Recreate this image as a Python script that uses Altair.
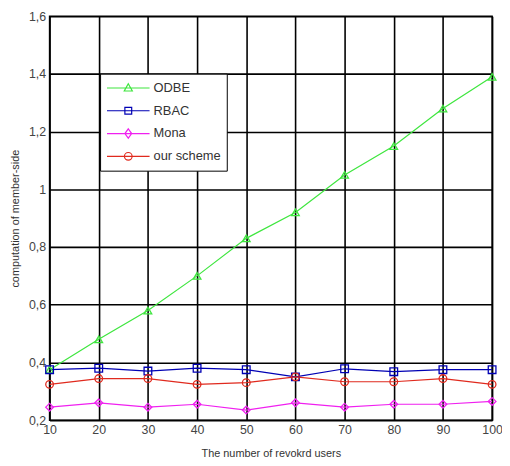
import altair as alt
import pandas as pd

users = [10, 20, 30, 40, 50, 60, 70, 80, 90, 100]
series_names = ["ODBE", "RBAC", "Mona", "our scheme"]
odbe = [0.375, 0.48, 0.58, 0.70, 0.83, 0.92, 1.05, 1.15, 1.28, 1.39]
rbac = [0.375, 0.38, 0.37, 0.38, 0.375, 0.35, 0.378, 0.368, 0.375, 0.375]
mona = [0.245, 0.26, 0.245, 0.255, 0.235, 0.26, 0.245, 0.255, 0.255, 0.265]
ours = [0.324, 0.344, 0.344, 0.324, 0.33, 0.35, 0.333, 0.333, 0.344, 0.324]
y_ticks = [0.2, 0.4, 0.6, 0.8, 1.0, 1.2, 1.4, 1.6]

colors = ["#3ee63e", "#0000b4", "#f020f0", "#e02a1e"]
shapes = ["triangle-up", "square", "diamond", "circle"]

# legend glyphs: a line with the marker on it (custom paths in -1..1 box)
line = "M-1,0L1,0"
legend_paths = [
    line + "M0,-0.2L0.19,0.14L-0.19,0.14Z",
    line + "M-0.16,-0.16L0.16,-0.16L0.16,0.16L-0.16,0.16Z",
    line + "M0,-0.22L0.16,0L0,0.22L-0.16,0Z",
    line + "M0.18,0A0.18,0.18,0,1,1,-0.18,0A0.18,0.18,0,1,1,0.18,0Z",
]

rows = []
for name, vals in zip(series_names, [odbe, rbac, mona, ours]):
    for u, v in zip(users, vals):
        rows.append({"users": u, "value": v, "series": name})
df = pd.DataFrame(rows)

font = "Liberation Sans"

x = alt.X("users:Q", scale=alt.Scale(domain=[10, 100], nice=False, zero=False),
          axis=alt.Axis(values=users, title="The number of revokrd users", labelFlush=False))
y = alt.Y("value:Q", scale=alt.Scale(domain=[0.2, 1.6], nice=False, zero=False),
          axis=alt.Axis(values=y_ticks, title="computation of member-side",
                        labelExpr="replace(format(datum.value, '~g'), '.', ',')"))
color_nolegend = alt.Color("series:N", scale=alt.Scale(domain=series_names, range=colors), legend=None)

lines = alt.Chart(df).mark_line(strokeWidth=1.2).encode(x=x, y=y, color=color_nolegend, detail="series:N")
points = alt.Chart(df).mark_point(filled=False, size=60, strokeWidth=1.3, opacity=1).encode(
    x=x, y=y, color=color_nolegend,
    shape=alt.Shape("series:N", scale=alt.Scale(domain=series_names, range=shapes), legend=None),
)

leg = alt.Legend(title=None, orient="none", legendX=51, legendY=58,
                 symbolSize=1849, symbolStrokeWidth=1.2,
                 clipHeight=17, rowPadding=6, labelOffset=3,
                 padding=6, fillColor="white", strokeColor="black",
                 labelFont=font, labelFontSize=13, labelColor="#333333")
legend_layer = alt.Chart(df).transform_filter("false").mark_point(filled=False, opacity=1).encode(
    x=x, y=y,
    color=alt.Color("series:N", scale=alt.Scale(domain=series_names, range=colors), legend=leg),
    shape=alt.Shape("series:N", scale=alt.Scale(domain=series_names, range=legend_paths), legend=leg),
)

chart = alt.layer(lines, points, legend_layer).resolve_scale(
    shape="independent", color="independent"
).properties(
    width=447, height=408,
    autosize=alt.AutoSizeParams(type="none"),
    padding={"left": 42, "top": 6, "right": 10, "bottom": 42},
).configure_view(stroke="black", strokeWidth=1.5).configure_axis(
    grid=True, gridColor="black", gridWidth=1.6, gridOpacity=1,
    domain=False, ticks=False, labelPadding=4,
    labelFont=font, labelFontSize=12.5, labelColor="#444444",
    titleFont=font, titleFontSize=11, titleFontWeight="normal", titleColor="#333333",
).configure_axisX(titlePadding=11).configure_axisY(titlePadding=8)

chart.save("out.html", embed_options={"renderer": "svg", "actions": False})
